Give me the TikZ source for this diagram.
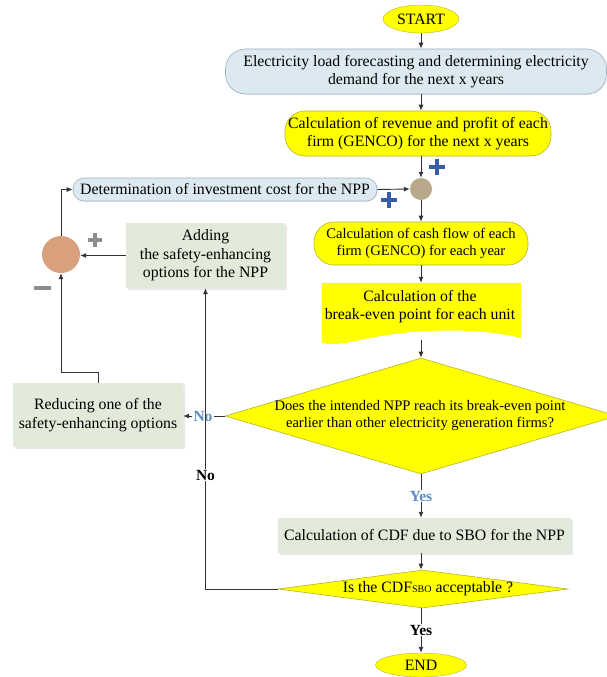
\documentclass[tikz,border=0pt]{standalone}
\usepackage{fontspec}
\setmainfont{Liberation Serif}
\usetikzlibrary{shapes.geometric,arrows.meta,shadows}
\definecolor{ylw}{HTML}{FFFF00}
\definecolor{ylwline}{HTML}{B5B52A}
\definecolor{lblue}{HTML}{DCE9F1}
\definecolor{lblueline}{HTML}{9BB2C4}
\definecolor{lgreen}{HTML}{E2EBD9}
\definecolor{tan}{HTML}{B8A98A}
\definecolor{salmon}{HTML}{D9A07E}
\definecolor{plusblue}{HTML}{3A5BA8}
\definecolor{plusgray}{HTML}{8C8C8C}
\definecolor{lbltext}{HTML}{5A8AC0}
\definecolor{linec}{HTML}{333333}
\tikzset{
  base/.style={inner sep=0pt, align=center, font=\fontsize{15.8}{18.5}\selectfont},
  smalltxt/.style={font=\fontsize{14.6}{17.5}\selectfont},
  yellowround/.style={base, draw=ylwline, fill=ylw, rounded corners=20pt, line width=0.6pt},
  blueround/.style={base, draw=lblueline, fill=lblue, rounded corners=18pt, line width=0.6pt, drop shadow={shadow xshift=1pt, shadow yshift=-1pt, opacity=0.15}},
  greenbox/.style={base, fill=lgreen, drop shadow={shadow xshift=1.5pt, shadow yshift=-1.5pt, opacity=0.18}},
  ovalnode/.style={base, ellipse, fill=ylw, draw=ylwline, line width=0.4pt},
  decision/.style={diamond, draw=ylwline, fill=ylw, inner sep=0pt, line width=0.6pt},
  arr/.style={draw=linec, line width=0.9pt, -{Latex[length=6pt,width=5pt]}},
  ln/.style={draw=linec, line width=0.9pt},
  bluelbl/.style={base, text=lbltext, font=\fontsize{15.5}{16}\selectfont\bfseries, fill=white, inner sep=1pt},
  blacklbl/.style={base, font=\fontsize{15.5}{16}\selectfont\bfseries, fill=white, inner sep=1pt},
}
\begin{document}
\begin{tikzpicture}[x=1pt,y=-1pt]
\path[use as bounding box] (0,0) rectangle (607,677);

% main column
\node[ovalnode, minimum width=76pt, minimum height=28pt] (start) at (421,19) {START};
\node[blueround, minimum width=381pt, minimum height=45pt, rounded corners=20pt] (b1) at (416,71.5)
  {Electricity load forecasting and determining electricity\\demand for the next x years};
\node[yellowround, minimum width=266pt, minimum height=45pt] (b2) at (418,133.5)
  {Calculation of revenue and profit of each\\firm (GENCO) for the next x years};
\node[circle, fill=tan, minimum size=22pt, inner sep=0pt] (sum) at (421,189) {};
\node[blueround, minimum width=304pt, minimum height=23pt, rounded corners=11pt] (b3) at (225,189.5)
  {Determination of investment cost for the NPP};
\node[yellowround, smalltxt, minimum width=214pt, minimum height=43pt] (b4) at (421,243.5)
  {Calculation of cash flow of each\\firm (GENCO) for each year};
\node[base, minimum width=199pt, minimum height=55pt] (b5) at (421.5,310.5) {};
\fill[ylw] (b5.north west) -- (b5.north east) -- (521,338)
  .. controls (480,328) and (420,328) .. (370,338)
  .. controls (350,342) and (335,346) .. (322,343) -- cycle;
\node[base] (b5t) at (420,306.5) {Calculation of the\\break-even point for each unit};
\node[decision, minimum width=392pt, minimum height=116pt] (d1) at (421,416) {};
\node[base, smalltxt, font=\fontsize{14.6}{17}\selectfont] (d1t) at (420,416) {Does the intended NPP reach its break-even point\\earlier than other electricity generation firms?};
\node[greenbox, minimum width=293pt, minimum height=35pt] (cbox) at (424.5,535.5)
  {Calculation of CDF due to SBO for the NPP};
\node[decision, minimum width=290pt, minimum height=38pt] (d2) at (423,589) {};
\node[base] (d2t) at (428,589) {Is the CDF{\fontsize{10}{10}\selectfont SBO} acceptable ?};
\node[ovalnode, minimum width=91pt, minimum height=24pt] (end) at (421,665) {END};

% left side
\node[ellipse, fill=salmon, minimum width=38pt, minimum height=37pt, inner sep=0pt] (circ2) at (61,254.5) {};
\node[greenbox, minimum width=159pt, minimum height=65pt] (abox) at (205.5,255.5)
  {Adding\\the safety-enhancing\\options for the NPP};
\node[greenbox, minimum width=170pt, minimum height=64pt] (rbox) at (98,415)
  {Reducing one of the\\safety-enhancing options};

% connectors
\draw[arr] (start.south) -- (start.south |- b1.north);
\draw[arr] (start.south |- b1.south) -- (start.south |- b2.north);
\draw[arr] (sum |- b2.south) -- (sum.north);
\draw[arr] (b3.east) -- (sum.west);
\draw[arr] (sum.south) -- (sum |- b4.north);
\draw[arr] (sum |- b4.south) -- (sum |- b5.north);
\draw[arr] (sum |- 0,340) -- (d1.north);

\node[bluelbl] (no1) at (203,416) {No};
\draw[ln] (d1.west) -- (no1.east);
\draw[arr] (no1.west) -- (rbox.east |- no1);

\draw[arr] (rbox.north) -- ++(0,-10) -| (circ2.south);
\draw[arr] (circ2.north) |- (b3.west);
\draw[arr] (abox.west) -- (circ2.east |- abox.west);

\draw[arr] (d2.west) -| (abox.south);
\node[blacklbl] (no2) at (205.5,475) {No};

\node[bluelbl] (yes1) at (421,496) {Yes};
\draw[ln] (d1.south) -- (yes1.north);
\draw[arr] (yes1.south) -- (yes1.south |- cbox.north);
\draw[arr] (yes1 |- cbox.south) -- (yes1 |- d2.north);

\node[blacklbl] (yes2) at (421,630) {Yes};
\draw[ln] (yes2 |- d2.south) -- (yes2.north);
\draw[arr] (yes2.south) -- (end.north);

% signs
\draw[plusblue, line width=3.2pt] (437,159) -- (437,175) (429,167) -- (445,167);
\draw[plusblue, line width=3.2pt] (389,192) -- (389,208) (381,200) -- (397,200);
\draw[plusgray, line width=3.2pt] (95,233) -- (95,247) (88,240) -- (102,240);
\draw[plusgray, line width=3.8pt] (34,288) -- (51,288);
\end{tikzpicture}
\end{document}
